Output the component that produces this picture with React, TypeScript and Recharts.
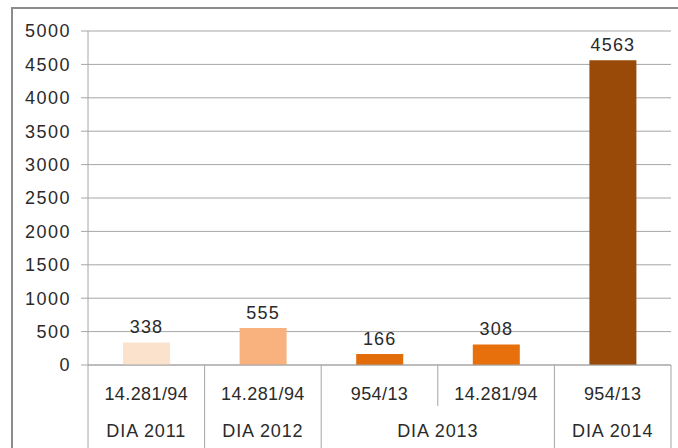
import React from "react";
import { BarChart, Bar, XAxis, YAxis, CartesianGrid, Cell, LabelList } from "recharts";

// chart values
const laws = ["14.281/94", "14.281/94", "954/13", "14.281/94", "954/13"];
const years = ["DIA 2011", "DIA 2012", "DIA 2013", "DIA 2013", "DIA 2014"];
const values = [338, 555, 166, 308, 4563];
const barColors = ["#fbe2cd", "#f9b27e", "#e36c0a", "#e8700c", "#9a4a08"];
const yTicks = [0, 500, 1000, 1500, 2000, 2500, 3000, 3500, 4000, 4500, 5000];

const data = values.map((v, i) => ({ key: `c${i}`, law: laws[i], year: years[i], value: v }));

const W = 678;
const H = 448;
const LEFT = 88;
const RIGHT = 671;
const BAND = (RIGHT - LEFT) / values.length;
const FONT = "'Liberation Sans', Arial, sans-serif";
const TEXT = "#2a2a2a";
const LINE = "#a6a6a6";

const XTick = (props: any) => {
  const { x, y, index } = props;
  const d = data[index];
  if (!d) return null;
  const left = x - BAND / 2;
  const right = x + BAND / 2;
  const newGroup = index === 0 || data[index - 1].year !== d.year;
  const last = index === data.length - 1;
  // span of group for second row label
  let end = index;
  while (end + 1 < data.length && data[end + 1].year === d.year) end++;
  const groupCenter = left + ((end - index + 1) * BAND) / 2;
  return (
    <g>
      <line x1={left} x2={left} y1={y} y2={newGroup ? H : y + 41} stroke={LINE} />
      {last && <line x1={right} x2={right} y1={y} y2={H} stroke={LINE} />}
      <text x={x} y={y + 35} textAnchor="middle" fontSize={18} fill={TEXT} fontFamily={FONT} style={{ letterSpacing: 0.4 }}>
        {d.law}
      </text>
      {newGroup && (
        <text x={groupCenter} y={y + 72} textAnchor="middle" fontSize={18} fill={TEXT} fontFamily={FONT} style={{ letterSpacing: 0.9 }}>
          {d.year}
        </text>
      )}
    </g>
  );
};

export default function App() {
  return (
    <div style={{ position: "absolute", left: 0, top: 0, width: W, height: H, background: "#fff", overflow: "hidden" }}>
      <div style={{ position: "absolute", left: 11, top: 7, width: W, height: H, borderTop: "2px solid #8c8c8c", borderLeft: "2px solid #8c8c8c" }} />
      <BarChart
        width={W}
        height={H}
        data={data}
        margin={{ top: 31, right: W - RIGHT, bottom: 0, left: 12 }}
        style={{ position: "absolute", left: 0, top: 0 }}
      >
        <CartesianGrid vertical={false} stroke={LINE} />
        <XAxis
          dataKey="key"
          height={83}
          tickLine={false}
          tickSize={0}
          tickMargin={0}
          axisLine={{ stroke: LINE }}
          tick={<XTick />}
          interval={0}
        />
        <YAxis
          width={76}
          domain={[0, 5000]}
          ticks={yTicks}
          interval={0}
          tickSize={7}
          tickMargin={10}
          axisLine={{ stroke: LINE }}
          tickLine={{ stroke: LINE }}
          tick={{ fontSize: 18, fill: TEXT, fontFamily: FONT, style: { letterSpacing: 1.5 } }}
        />
        <Bar dataKey="value" barSize={47} isAnimationActive={false}>
          {data.map((d, i) => (
            <Cell key={d.key} fill={barColors[i]} />
          ))}
          <LabelList
            dataKey="value"
            position="top"
            offset={9}
            style={{ fontSize: 18, fill: TEXT, fontFamily: FONT, letterSpacing: 1.2 }}
          />
        </Bar>
      </BarChart>
    </div>
  );
}
